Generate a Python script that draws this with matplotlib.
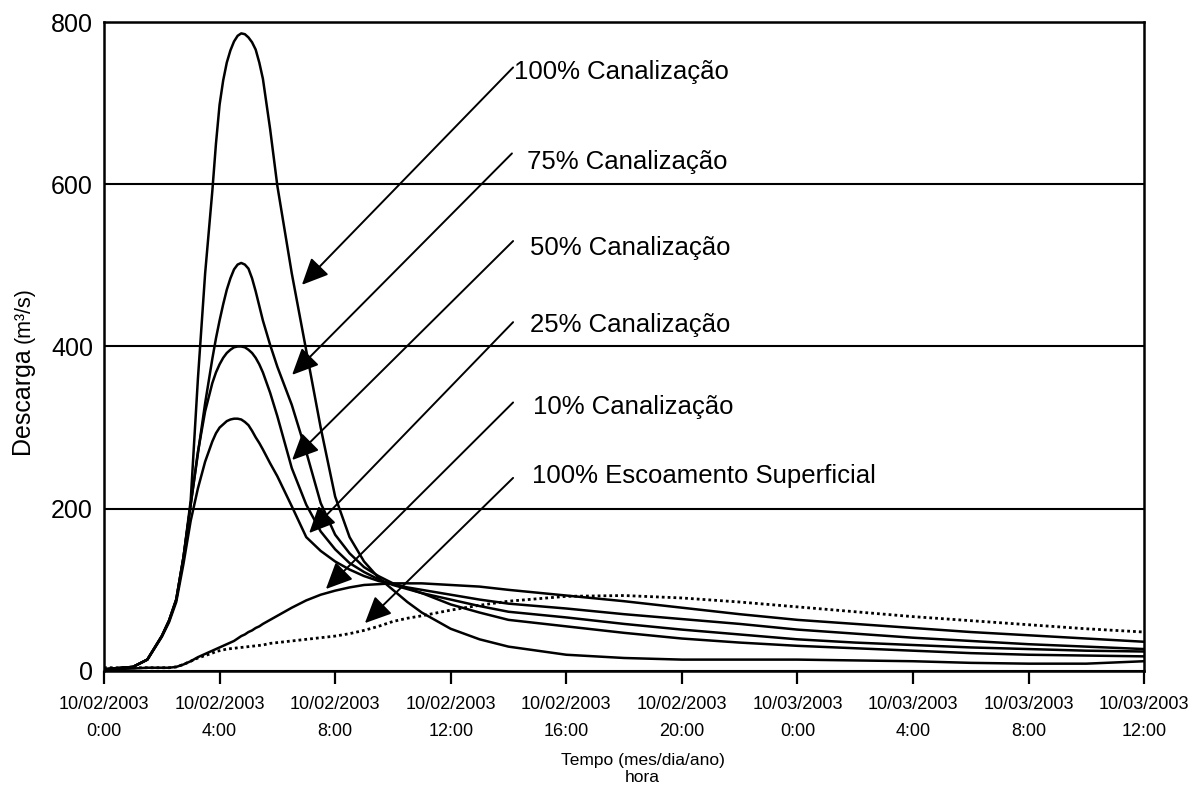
import matplotlib
matplotlib.use('Agg')
import matplotlib.pyplot as plt

plt.rcParams['font.family'] = ['Liberation Sans', 'DejaVu Sans']

# horas desde 10/02/2003 0:00
tempo = [0, 1, 1.5, 2, 2.25, 2.5, 2.75, 3, 3.25, 3.5, 3.75, 3.875, 4, 4.125, 4.25, 4.375,
         4.5, 4.625, 4.75, 4.875, 5, 5.125, 5.25, 5.375, 5.5, 5.75, 6, 6.5, 7, 7.5, 8,
         8.5, 9, 9.5, 10, 10.5, 11, 12, 13, 14, 16, 18, 20, 22, 24, 26, 28, 30, 32, 34, 36]

can100 = [2, 5, 14, 43, 62, 88, 140, 210, 360, 490, 592, 650, 698, 728, 750, 765,
          776, 783, 786, 785, 781, 775, 766, 750, 730, 668, 598, 490, 395, 300, 215,
          165, 135, 115, 100, 85, 72, 52, 39, 30, 20, 16, 14, 14, 14, 13, 12, 10, 9, 9, 12]
can75 = [2, 5, 14, 43, 62, 88, 140, 205, 268, 330, 385, 410, 432, 452, 470, 484,
         495, 501, 503, 501, 496, 484, 468, 450, 432, 402, 375, 328, 270, 207, 168,
         145, 128, 117, 108, 102, 96, 82, 72, 63, 55, 47, 40, 35, 31, 28, 25, 22, 20, 19, 18]
can50 = [2, 5, 14, 43, 62, 88, 140, 205, 270, 320, 355, 368, 378, 386, 392, 396,
         399, 400, 400, 399, 396, 392, 386, 378, 368, 343, 314, 250, 205, 172, 150,
         133, 122, 113, 106, 101, 96, 88, 80, 73, 66, 58, 51, 45, 39, 35, 32, 29, 27, 25, 24]
can25 = [2, 5, 14, 42, 60, 85, 132, 185, 225, 258, 283, 293, 300, 304, 308, 310,
         311, 311, 310, 307, 303, 296, 288, 281, 273, 256, 240, 203, 165, 148, 135,
         125, 117, 111, 107, 103, 100, 94, 88, 83, 77, 70, 64, 58, 51, 46, 41, 37, 33, 30, 27]
can10 = [2, 3, 4, 4, 4, 5, 8, 12, 17, 21, 25, 27, 29, 31, 33, 35,
         37, 40, 43, 45, 48, 50, 53, 55, 58, 63, 68, 78, 87, 94, 99,
         103, 106, 107, 108, 108, 108, 106, 104, 100, 93, 86, 78, 70, 63, 58, 53, 48, 44, 40, 36]
superficial = [4, 4, 4, 4, 4, 5, 8, 12, 16, 19, 22, 24, 25, 26, 27, 27.5,
               28, 28.5, 29, 29.5, 30, 30.5, 31, 31.5, 32, 34, 35, 37, 39, 41, 43,
               46, 50, 55, 61, 65, 68, 75, 81, 86, 92, 93, 90, 85, 79, 73, 67, 62, 57, 52, 48]

rotulos = ['100% Canalização', '75% Canalização', '50% Canalização',
           '25% Canalização', '10% Canalização', '100% Escoamento Superficial']

tick_horas = [0, 4, 8, 12, 16, 20, 24, 28, 32, 36]
tick_labels = ['10/02/2003\n0:00', '10/02/2003\n4:00', '10/02/2003\n8:00',
               '10/02/2003\n12:00', '10/02/2003\n16:00', '10/02/2003\n20:00',
               '10/03/2003\n0:00', '10/03/2003\n4:00', '10/03/2003\n8:00',
               '10/03/2003\n12:00']

# posicao das setas (ponta / inicio) e dos textos, em unidades do grafico
seta_ponta = [(6.85, 476), (6.51, 365), (6.51, 260), (7.10, 170), (7.68, 101), (9.03, 59)]
seta_inicio = [(14.16, 744), (14.12, 638), (14.16, 530), (14.16, 430), (14.16, 331), (14.16, 238)]
texto_pos = [(14.18, 738), (14.64, 627), (14.75, 522), (14.75, 427), (14.85, 326), (14.81, 240)]

fig = plt.figure(figsize=(12.01, 7.89), dpi=100)
ax = fig.add_axes([0.0866, 0.1496, 0.866, 0.8225])

for serie in [can100, can75, can50, can25, can10]:
        ax.plot(tempo, serie, color='black', lw=1.8, solid_joinstyle='round')
ax.plot(tempo, superficial, color='black', lw=2.0, linestyle=(0, (1, 1.1)), dash_capstyle='butt')

for ponta, inicio, pos, txt in zip(seta_ponta, seta_inicio, texto_pos, rotulos):
        ax.annotate('', xy=ponta, xytext=inicio,
                    arrowprops=dict(arrowstyle='-|>,head_length=0.65,head_width=0.3',
                                    mutation_scale=25, color='black', lw=1.4,
                                    shrinkA=0, shrinkB=0))
        ax.text(pos[0], pos[1], txt, fontsize=18.5, ha='left', va='center')

ax.set_xlim(0, 36)
ax.set_ylim(0, 800)
ax.set_yticks([0, 200, 400, 600, 800])
ax.yaxis.grid(True, color='black', lw=1.5)
ax.set_axisbelow(True)

ax.set_xticks(tick_horas)
ax.set_xticklabels(tick_labels, fontsize=13, linespacing=1.75)
ax.tick_params(axis='x', direction='out', length=9, width=1.6, pad=9)
ax.tick_params(axis='y', length=0, pad=8, labelsize=18)

for s in ax.spines.values():
        s.set_linewidth(1.8)
        s.set_color('black')

fig.text(0.0185, 0.4918, 'Descarga', rotation=90, fontsize=18, ha='center', va='center')
fig.text(0.0205, 0.6008, '(m³/s)', rotation=90, fontsize=15.5, ha='center', va='center')
fig.text(0.535, 1 - 769 / 789, 'Tempo (mes/dia/ano)\nhora', fontsize=12.5,
         ha='center', va='center', linespacing=1.1)

fig.savefig('out.png', dpi=100)
